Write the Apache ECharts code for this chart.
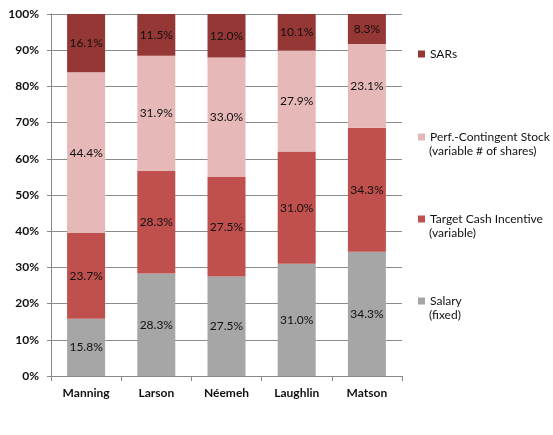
<!DOCTYPE html>
<html><head><meta charset="utf-8">
<script src="https://cdn.jsdelivr.net/npm/echarts@6/dist/echarts.min.js"></script>
<style>html,body{margin:0;padding:0;background:#fff}#c{width:553px;height:435px}</style>
</head><body><div id="c"></div>
<script>
var categories = ['Manning', 'Larson', 'Néemeh', 'Laughlin', 'Matson'];
var salary = [15.8, 28.3, 27.5, 31.0, 34.3];
var targetCash = [23.7, 28.3, 27.5, 31.0, 34.3];
var perfStock = [44.4, 31.9, 33.0, 27.9, 23.1];
var sars = [16.1, 11.5, 12.0, 10.1, 8.3];
var yTicks = [0, 10, 20, 30, 40, 50, 60, 70, 80, 90, 100];

var seriesDefs = [
  {name: 'Salary', sub: '(fixed)', data: salary, color: '#A6A6A6', legendY: 301},
  {name: 'Target Cash Incentive', sub: '(variable)', data: targetCash, color: '#C0504D', legendY: 219},
  {name: 'Perf.-Contingent Stock', sub: '(variable # of shares)', data: perfStock, color: '#E6B9B8', legendY: 137},
  {name: 'SARs', sub: '', data: sars, color: '#953735', legendY: 54}
];
var font = 'Lato, "Liberation Sans", sans-serif';
var chart = echarts.init(document.getElementById('c'));
var legends = seriesDefs.map(function (s) {
  return {
    data: [s.name], left: 413, top: s.legendY - 13, orient: 'vertical',
    itemWidth: 7, itemHeight: 7, itemGap: 0, icon: 'rect', selectedMode: false,
    textStyle: {fontFamily: font, fontSize: 12, color: '#111', lineHeight: 16}
  };
});
var subTexts = seriesDefs.filter(function (s) { return s.sub; }).map(function (s) {
  return {
    type: 'text', left: 429, top: s.legendY + 8,
    style: {text: s.sub, font: '12px ' + font, fill: '#111'}
  };
});
chart.setOption({
  animation: false,
  color: seriesDefs.map(function (s) { return s.color; }),
  legend: legends,
  graphic: subTexts,
  grid: {left: 51, right: 151, top: 14, bottom: 59},
  xAxis: {
    type: 'category', data: categories,
    axisLine: {lineStyle: {color: '#888'}},
    axisTick: {show: true, alignWithLabel: false, length: 5, lineStyle: {color: '#888'}},
    axisLabel: {fontFamily: font, fontWeight: 'bold', fontSize: 12, color: '#111', margin: 11}
  },
  yAxis: {
    type: 'value', min: 0, max: 100, interval: 10,
    axisLine: {show: true, lineStyle: {color: '#888'}},
    axisTick: {show: true, inside: false, length: 4, lineStyle: {color: '#888'}},
    splitLine: {lineStyle: {color: '#8c8c8c'}},
    axisLabel: {fontFamily: font, fontWeight: 'bold', fontSize: 12, color: '#111', margin: 12,
      formatter: function (v) { return yTicks.indexOf(v) >= 0 ? v + '%' : ''; }}
  },
  series: seriesDefs.map(function (s) {
    return {
      name: s.name, type: 'bar', stack: 'total', data: s.data, barWidth: 38,
      itemStyle: {color: s.color},
      label: {show: true, position: 'inside', fontFamily: font, fontSize: 12, color: '#111',
        formatter: function (p) { return p.value.toFixed(1) + '%'; }}
    };
  })
});
</script></body></html>
